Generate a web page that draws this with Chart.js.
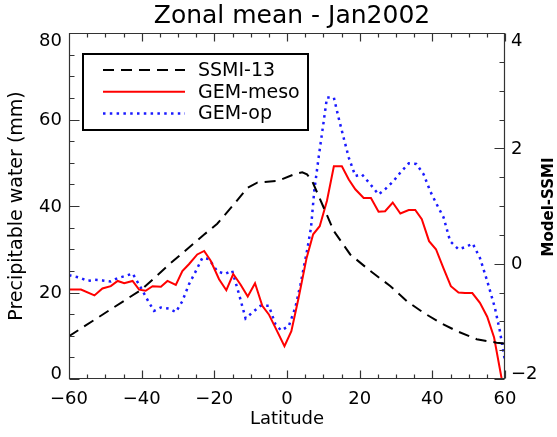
<!DOCTYPE html>
<html>
<head>
<meta charset="utf-8">
<script src="https://cdn.jsdelivr.net/npm/chart.js@4"></script>
<style>
  html, body { margin: 0; padding: 0; background: #fff; }
  #zonal-chart { display: block; }
</style>
</head>
<body>
<canvas id="zonal-chart" width="557" height="437"></canvas>
<script>
// tick labels
const latTicks = [-60, -40, -20, 0, 20, 40, 60];
const pwTicks = [0, 20, 40, 60, 80];
const diffTicks = [-2, 0, 2, 4];

// SSMI-13 precipitable water (left axis, mm)
const ssmiLat = [-60, -40, -32, -22.8, -19.2, -14.6, -10.9, -8.2, -2.6, 1.9, 4.2, 5.5, 6.9, 9.7, 12.9, 17.4, 22.9, 28.4, 33, 37.6, 42.2, 46.7, 52.2, 57.7, 60];
const ssmiPw = [9.9, 20.7, 26.8, 33.4, 35.9, 40.4, 44.2, 45.4, 45.8, 47.3, 47.8, 47.3, 45.8, 40.4, 34.2, 28.8, 25.0, 21.5, 18.0, 15.3, 13.0, 11.1, 9.2, 8.4, 8.2];

// GEM-meso minus SSMI (right axis)
const mesoLat = [-60, -56.7, -53, -50.8, -48.5, -46.6, -44.8, -42.5, -40.7, -38.9, -37, -34.7, -32.9, -30.6, -28.8, -27, -24.7, -22.8, -21, -18.7, -16.7, -14.8, -12.8, -10.8, -8.8, -6.8, -5, -3.2, -0.7, 1.2, 3.2, 5.4, 7.2, 9, 11, 12.9, 15.1, 17, 18.8, 21.1, 23.1, 25.2, 27, 29.1, 31.2, 33.5, 35.3, 37.1, 39.1, 41, 43, 45.1, 47.2, 49, 51, 53.1, 55.1, 57, 60];
const mesoDiff = [-0.45, -0.45, -0.55, -0.43, -0.39, -0.30, -0.34, -0.30, -0.45, -0.47, -0.39, -0.40, -0.30, -0.37, -0.13, -0.01, 0.16, 0.22, 0.05, -0.27, -0.46, -0.18, -0.36, -0.57, -0.34, -0.73, -0.88, -1.11, -1.43, -1.17, -0.59, 0.10, 0.51, 0.65, 1.09, 1.69, 1.69, 1.46, 1.29, 1.14, 1.14, 0.90, 0.91, 1.06, 0.87, 0.93, 0.93, 0.77, 0.39, 0.25, -0.07, -0.39, -0.50, -0.51, -0.51, -0.68, -0.92, -1.28, -2.31];

// GEM-op minus SSMI (right axis)
const opLat = [-60, -57.2, -54.9, -53, -50.8, -48.5, -46.6, -44.3, -42.5, -40.2, -38.2, -36.6, -34.7, -32.4, -30.6, -28.8, -27, -25.1, -23.3, -21.5, -19.2, -17.1, -15.1, -13.2, -11.4, -9.6, -7.3, -5, -3.2, -1.6, 0.5, 2.3, 3.7, 5.5, 6.6, 7.5, 8.7, 10.1, 11, 12.9, 14.2, 15.6, 17, 18.8, 20.6, 22.9, 25.2, 27, 29.3, 31.2, 33.5, 35.6, 37.6, 39.4, 41.2, 43.1, 44.9, 47.2, 49.3, 51.1, 53.1, 55.1, 57.2, 58.6, 60];
const opDiff = [-0.20, -0.24, -0.30, -0.28, -0.29, -0.31, -0.25, -0.21, -0.17, -0.42, -0.65, -0.82, -0.76, -0.78, -0.84, -0.65, -0.36, -0.13, 0.10, 0.08, -0.13, -0.18, -0.12, -0.53, -0.95, -0.85, -0.73, -0.73, -1.05, -1.16, -1.08, -0.76, -0.36, 0.22, 0.62, 1.26, 1.84, 2.47, 2.88, 2.88, 2.53, 2.18, 1.84, 1.52, 1.55, 1.38, 1.20, 1.29, 1.43, 1.58, 1.74, 1.73, 1.55, 1.26, 1.03, 0.80, 0.39, 0.25, 0.29, 0.35, 0.10, -0.30, -0.76, -1.17, -1.69];

const FONT = 'DejaVu Sans';
const AXIS_COLOR = '#333';

// zip lat/value arrays into points
const toPoints = (lats, vals) => lats.map((lat, i) => ({ x: lat, y: vals[i] }));

// minus sign in tick labels like the original plot
const fmtTick = (v) => String(v).replace('-', '\u2212');

// IDL-style frame: box round the plot, ticks pointing inward, y labels kept inside the axis span, boxed legend, titles
const idlFrame = {
    id: 'idlFrame',
    afterDraw(chart) {
        const { ctx, chartArea: a, scales } = chart;
        ctx.save();
        ctx.setLineDash([]);
        ctx.strokeStyle = AXIS_COLOR;
        ctx.lineWidth = 1.2;

        const L = Math.round(a.left) + 0.5;
        const R = Math.round(a.right) - 0.5;
        const T = Math.round(a.top) + 0.5;
        const B = Math.round(a.bottom) - 0.5;

        ctx.beginPath();
        ctx.moveTo(L, T); ctx.lineTo(R, T); ctx.lineTo(R, B); ctx.lineTo(L, B); ctx.closePath();

        // latitude ticks, bottom and top
        for (let v = -60; v <= 60; v += 5) {
            const x = Math.round(scales.x.getPixelForValue(v)) + 0.5;
            const len = v % 20 === 0 ? 8 : 4;
            ctx.moveTo(x, B); ctx.lineTo(x, B - len);
            ctx.moveTo(x, T); ctx.lineTo(x, T + len);
        }
        // precipitable water ticks, left
        for (let v = 0; v <= 80; v += 5) {
            const y = Math.round(scales.y.getPixelForValue(v)) + 0.5;
            const len = v % 20 === 0 ? 10 : 5;
            ctx.moveTo(L, y); ctx.lineTo(L + len, y);
        }
        // model - ssmi ticks, right
        for (let v = -2; v <= 4; v += 0.5) {
            const y = Math.round(scales.y1.getPixelForValue(v)) + 0.5;
            const len = v % 2 === 0 ? 10 : 5;
            ctx.moveTo(R, y); ctx.lineTo(R - len, y);
        }
        ctx.stroke();

        // y tick labels; end labels pushed inside like IDL does
        ctx.fillStyle = '#000';
        ctx.font = `18px "${FONT}"`;
        ctx.textBaseline = 'middle';
        const clampY = (y) => Math.min(Math.max(y, a.top + 7), a.bottom - 6);
        ctx.textAlign = 'right';
        pwTicks.forEach(v => ctx.fillText(fmtTick(v), a.left - 7, clampY(scales.y.getPixelForValue(v)) + 1));
        ctx.textAlign = 'left';
        diffTicks.forEach(v => ctx.fillText(fmtTick(v), a.right + 6, clampY(scales.y1.getPixelForValue(v)) + 1));

        // main title
        ctx.textAlign = 'center';
        ctx.font = `25px "${FONT}"`;
        ctx.fillText('Zonal mean - Jan2002', 292, 16);

        // right axis title, reading bottom to top
        ctx.save();
        ctx.translate(549, 207);
        ctx.rotate(-Math.PI / 2);
        ctx.font = `bold 15px "${FONT}"`;
        ctx.fillText('Model-SSMI', 0, 0);
        ctx.restore();

        // legend box
        const box = { x: 83, y: 54, w: 225, h: 76 };
        ctx.lineWidth = 2;
        ctx.strokeStyle = '#000';
        ctx.strokeRect(box.x, box.y, box.w, box.h);
        ctx.font = `19px "${FONT}"`;
        ctx.textAlign = 'left';
        chart.data.datasets.forEach((ds, i) => {
            const y = 70 + i * 21.7;
            ctx.beginPath();
            ctx.strokeStyle = ds.borderColor;
            ctx.lineWidth = ds.borderWidth;
            ctx.setLineDash(ds.borderDash || []);
            ctx.moveTo(103, y);
            ctx.lineTo(185, y);
            ctx.stroke();
            ctx.setLineDash([]);
            ctx.fillStyle = '#000';
            ctx.fillText(ds.label, 198, y + 1);
        });
        ctx.restore();
    }
};

const hiddenGrid = { display: false, drawTicks: false, tickLength: 0 };

new Chart(document.getElementById('zonal-chart'), {
    type: 'line',
    data: {
        datasets: [{
            label: 'SSMI-13',
            data: toPoints(ssmiLat, ssmiPw),
            yAxisID: 'y',
            borderColor: '#000000',
            borderWidth: 2,
            borderDash: [11, 7]
        }, {
            label: 'GEM-meso',
            data: toPoints(mesoLat, mesoDiff),
            yAxisID: 'y1',
            borderColor: '#ff0000',
            borderWidth: 2
        }, {
            label: 'GEM-op',
            data: toPoints(opLat, opDiff),
            yAxisID: 'y1',
            borderColor: '#1a1aff',
            borderWidth: 2.5,
            borderDash: [2.5, 4.3]
        }]
    },
    options: {
        responsive: false,
        animation: false,
        devicePixelRatio: 1,
        layout: { padding: { top: 33, left: 0, right: 0, bottom: 0 } },
        elements: {
            point: { radius: 0, hoverRadius: 0 },
            line: { tension: 0, fill: false }
        },
        plugins: {
            legend: { display: false },
            tooltip: { enabled: false },
            title: { display: false }
        },
        scales: {
            x: {
                type: 'linear',
                min: -60,
                max: 60,
                afterBuildTicks: (scale) => { scale.ticks = latTicks.map(v => ({ value: v })); },
                afterFit: (scale) => { scale.height = 58; },
                grid: hiddenGrid,
                border: { display: false },
                ticks: {
                    color: '#000',
                    font: { family: FONT, size: 18 },
                    padding: 10,
                    maxRotation: 0,
                    autoSkip: false,
                    callback: fmtTick
                },
                title: {
                    display: true,
                    text: 'Latitude',
                    color: '#000',
                    font: { family: FONT, size: 18 },
                    padding: { top: 0, bottom: 7 }
                }
            },
            y: {
                position: 'left',
                min: 0,
                max: 80,
                afterBuildTicks: (scale) => { scale.ticks = pwTicks.map(v => ({ value: v })); },
                afterFit: (scale) => { scale.width = 69; },
                grid: hiddenGrid,
                border: { display: false },
                ticks: { display: false },
                title: {
                    display: true,
                    text: 'Precipitable water (mm)',
                    color: '#000',
                    font: { family: FONT, size: 19 },
                    padding: { top: 6, bottom: 0 }
                }
            },
            y1: {
                position: 'right',
                min: -2,
                max: 4,
                afterBuildTicks: (scale) => { scale.ticks = diffTicks.map(v => ({ value: v })); },
                afterFit: (scale) => { scale.width = 52; },
                grid: hiddenGrid,
                border: { display: false },
                ticks: { display: false }
            }
        }
    },
    plugins: [idlFrame]
});
</script>
</body>
</html>
